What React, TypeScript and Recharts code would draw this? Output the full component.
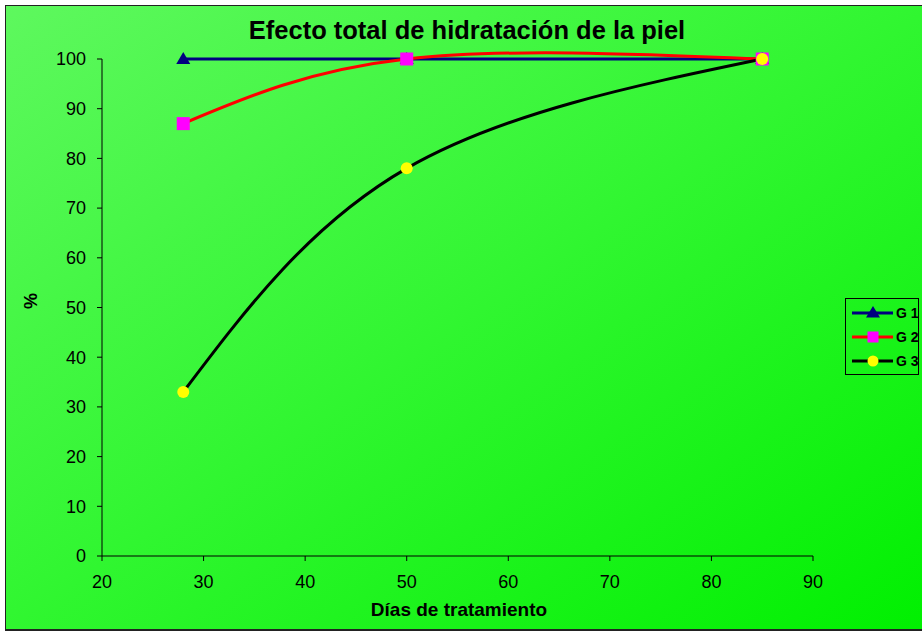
import React from "react";
import { LineChart, Line, XAxis, YAxis } from "recharts";

const days = [28, 50, 85];
const g1 = [100, 100, 100];
const g2 = [87, 100, 100];
const g3 = [33, 78, 100];
const xTicks = [20, 30, 40, 50, 60, 70, 80, 90];
const yTicks = [0, 10, 20, 30, 40, 50, 60, 70, 80, 90, 100];

const data = days.map((d, i) => ({ day: d, g1: g1[i], g2: g2[i], g3: g3[i] }));

const font = "'Liberation Sans', Arial, sans-serif";

const Triangle = ({ cx, cy }: { cx?: number; cy?: number }) => {
  if (cx == null || cy == null) return null;
  return <polygon points={`${cx},${cy - 7} ${cx - 7},${cy + 5} ${cx + 7},${cy + 5}`} fill="#000080" />;
};

const Square = ({ cx, cy }: { cx?: number; cy?: number }) => {
  if (cx == null || cy == null) return null;
  return <rect x={cx - 6.5} y={cy - 6.5} width={13} height={13} fill="#ff00ff" />;
};

const Circle = ({ cx, cy }: { cx?: number; cy?: number }) => {
  if (cx == null || cy == null) return null;
  return <circle cx={cx} cy={cy} r={6} fill="#ffff00" />;
};

const legendItems = [
  { name: "G 1", color: "#000080", marker: "tri" },
  { name: "G 2", color: "#ff0000", marker: "sq" },
  { name: "G 3", color: "#000000", marker: "dot" },
];

const LegendBox = () => (
  <div
    style={{
      position: "absolute",
      left: 845,
      top: 298,
      width: 74,
      height: 77,
      border: "1.5px solid #000",
      boxSizing: "border-box",
      paddingTop: 2,
    }}
  >
    {legendItems.map((it) => (
      <div key={it.name} style={{ display: "flex", alignItems: "center", height: 24, whiteSpace: "nowrap" }}>
        <svg width={42} height={16} style={{ marginLeft: 6, flex: "none" }}>
          <line x1={0} y1={8} x2={41} y2={8} stroke={it.color} strokeWidth={3} />
          {it.marker === "tri" && <polygon points="21,1 14,12.5 28,12.5" fill="#000080" />}
          {it.marker === "sq" && <rect x={15.5} y={2.5} width={11} height={11} fill="#ff00ff" />}
          {it.marker === "dot" && <circle cx={21} cy={8} r={5.5} fill="#ffff00" />}
        </svg>
        <span style={{ marginLeft: 2, fontFamily: font, fontWeight: "bold", fontSize: 14, color: "#000" }}>{it.name}</span>
      </div>
    ))}
  </div>
);

export default function App() {
  return (
    <div style={{ position: "fixed", left: 0, top: 0, width: 922, height: 632, background: "#fff", overflow: "hidden" }}>
      <div
        style={{
          position: "absolute",
          left: 5,
          top: 5,
          width: 930,
          height: 626,
          boxSizing: "border-box",
          border: "1.5px solid #222",
          borderBottom: "2.5px solid #222",
          background: "linear-gradient(to bottom right, #5ef85e 0%, #30f630 50%, #00f000 100%)",
        }}
      />
      <div style={{ position: "absolute", left: 0, top: 0 }}>
        <LineChart width={922} height={632} data={data} margin={{ top: 59, right: 109, left: 42, bottom: 46 }}>
          <text x={467} y={39} textAnchor="middle" fontFamily={font} fontWeight="bold" fontSize={25.5} fill="#000">
            Efecto total de hidratación de la piel
          </text>
          <text x={459} y={616} textAnchor="middle" fontFamily={font} fontWeight="bold" fontSize={19} fill="#000">
            Días de tratamiento
          </text>
          <text
            x={37}
            y={301}
            textAnchor="middle"
            transform="rotate(-90 37 301)"
            fontFamily={font}
            fontWeight="bold"
            fontSize={18}
            fill="#000"
          >
            %
          </text>
          <XAxis
            dataKey="day"
            type="number"
            domain={[20, 90]}
            ticks={xTicks}
            height={30}
            stroke="#000"
            tickSize={5}
            tick={{ fill: "#000", fontSize: 18, fontFamily: font }}
            tickMargin={14}
          />
          <YAxis
            type="number"
            domain={[0, 100]}
            ticks={yTicks}
            width={60}
            stroke="#000"
            tickSize={5}
            tick={{ fill: "#000", fontSize: 18, fontFamily: font }}
            tickMargin={11}
          />
          <Line dataKey="g1" name="G 1" type="natural" stroke="#000080" strokeWidth={3} dot={<Triangle />} activeDot={false} isAnimationActive={false} />
          <Line dataKey="g2" name="G 2" type="natural" stroke="#ff0000" strokeWidth={3} dot={<Square />} activeDot={false} isAnimationActive={false} />
          <Line dataKey="g3" name="G 3" type="natural" stroke="#000000" strokeWidth={3} dot={<Circle />} activeDot={false} isAnimationActive={false} />
        </LineChart>
      </div>
      <LegendBox />
    </div>
  );
}
